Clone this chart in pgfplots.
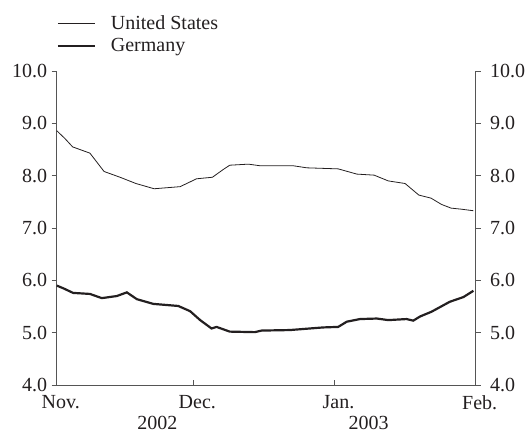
\documentclass[border=0pt]{standalone}
\usepackage{fontspec}
\setmainfont{Liberation Serif}
\usepackage{pgfplots}
\pgfplotsset{compat=1.18}

% days counted from 1 Nov 2002
\pgfplotstableread{
d v
0 8.86
1.8 8.71
3.5 8.55
7.3 8.43
10.4 8.08
13.9 7.97
17.4 7.85
21.4 7.75
27.1 7.79
30.7 7.94
34.2 7.97
36.6 8.12
38.0 8.20
42.1 8.22
44.6 8.19
51.9 8.19
54.9 8.15
61.8 8.13
65.9 8.03
69.7 8.01
72.8 7.90
76.5 7.85
79.5 7.63
82.2 7.57
84.5 7.45
86.6 7.38
88.8 7.36
91.5 7.33
}\us

\pgfplotstableread{
d v
0 5.90
1.4 5.85
3.6 5.76
7.3 5.74
9.9 5.66
13.2 5.70
15.4 5.77
17.6 5.64
21.2 5.55
26.7 5.51
29.3 5.41
31.5 5.24
34.0 5.08
35.1 5.11
38.0 5.02
43.5 5.01
45.0 5.04
51.2 5.05
58.5 5.10
61.8 5.11
63.7 5.21
66.6 5.26
70.3 5.27
72.8 5.24
76.8 5.26
78.3 5.23
79.8 5.31
82.3 5.40
86.3 5.59
89.3 5.68
91.5 5.80
}\de

\definecolor{ink}{HTML}{231F20}
\definecolor{spine}{HTML}{555555}

\pgfplotsset{
  base/.style={
    scale only axis, width=419bp, height=314bp,
    xmin=0, xmax=92, ymin=4, ymax=10,
    ytick={4,5,...,10},
    yticklabel style={/pgf/number format/fixed, /pgf/number format/fixed zerofill,
      /pgf/number format/precision=1, /pgf/number format/assume math mode=true},
    tick style={spine, line width=0.8pt},
    axis line style={spine, line width=0.8pt, -},
    every outer x axis line/.append style={-},
    every outer y axis line/.append style={-},
    ticklabel style={font=\fontsize{20bp}{24bp}\selectfont, text=ink},
    major tick length=5bp,
  },
}

\begin{document}
\begin{tikzpicture}
\begin{axis}[base, name=ax, clip mode=individual,
  axis x line*=bottom, axis y line*=left,
  xtick={0,30,61,92},
  xticklabels={Nov.,Dec.,Jan.,Feb.},
  xtick align=inside, ytick align=outside,
  xticklabel style={xshift=4bp},
  xticklabel shift=7bp,
  yticklabel style={xshift=-1bp},
  legend style={draw=none, fill=none, inner sep=0pt, outer sep=0pt,
    at={(rel axis cs:0,1)}, anchor=south west, yshift=18bp,
    font=\fontsize{20bp}{24bp}\selectfont, text=ink,
    nodes={inner sep=0pt, anchor=west}, row sep=7bp,
    /tikz/every odd column/.append style={column sep=15bp}},
  legend cell align=left,
  legend image code/.code={\draw[#1] (0bp,0bp) -- (37bp,0bp);},
]
\addplot[ink, line width=0.8pt] table[x=d, y=v] {\us};
\addlegendentry{United States}
\addplot[ink, line width=2.2pt] table[x=d, y=v] {\de};
\addlegendentry{Germany}
\node[font=\fontsize{20bp}{24bp}\selectfont, text=ink, anchor=base] at (axis cs:22.1,4) [yshift=-44bp] {2002};
\node[font=\fontsize{20bp}{24bp}\selectfont, text=ink, anchor=base] at (axis cs:68.5,4) [yshift=-44bp] {2003};
\end{axis}
\begin{axis}[base,
  axis x line=none, axis y line*=right,
  yticklabel pos=right, ytick align=outside,
  yticklabel style={xshift=6bp},
]
\end{axis}
\pgfresetboundingbox
\path (ax.south west) ++(-56.7bp,-47bp) rectangle ++(525bp,432bp);
\end{tikzpicture}
\end{document}
